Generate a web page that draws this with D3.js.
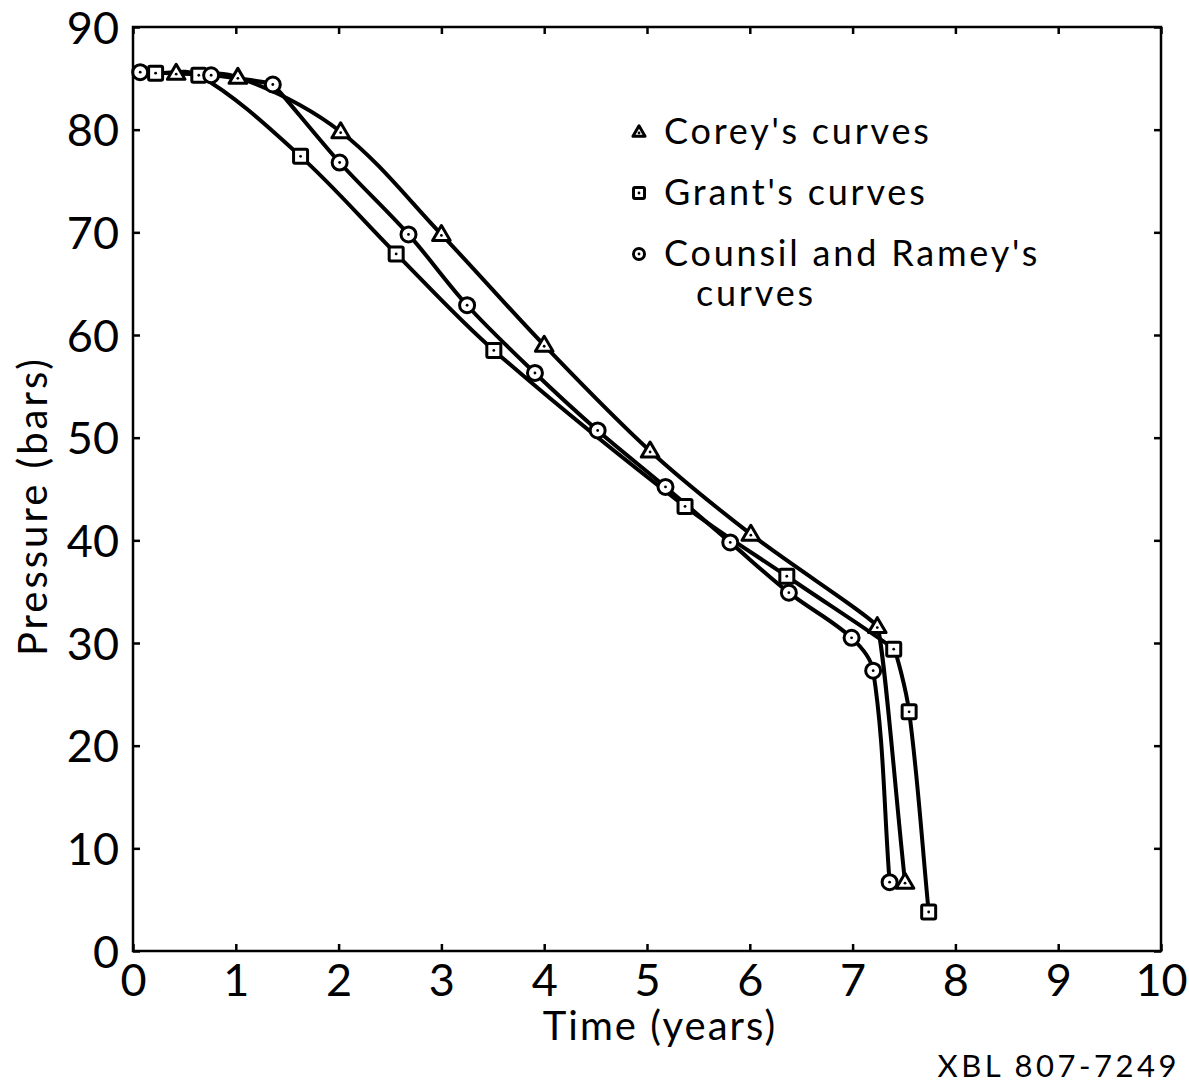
<!DOCTYPE html>
<html>
<head>
<meta charset="utf-8">
<script src="https://cdn.jsdelivr.net/npm/d3@7"></script>
<style>
  html, body { margin: 0; padding: 0; background: #fff; }
  svg { display: block; }
  text { font-family: "Lato", "DejaVu Sans", sans-serif; fill: #000; }
</style>
</head>
<body>
<svg id="chart" width="1189" height="1084"></svg>
<script>
// ---- Data ----
const xTicks = [0, 1, 2, 3, 4, 5, 6, 7, 8, 9, 10];
const yTicks = [0, 10, 20, 30, 40, 50, 60, 70, 80, 90];

const coreyTime     = [0.42, 1.02, 2.02, 3.00, 4.00, 5.03, 6.01, 7.24, 7.51];
const coreyPressure = [85.5, 85.1, 79.8, 69.8, 59.0, 48.7, 40.6, 31.6, 6.7];

const grantTime     = [0.22, 0.64, 1.63, 2.56, 3.51, 5.37, 6.36, 7.40, 7.55, 7.74];
const grantPressure = [85.5, 85.3, 77.4, 67.9, 58.5, 43.3, 36.5, 29.4, 23.3, 3.8];

const crTime     = [0.07, 0.76, 1.36, 2.01, 2.68, 3.25, 3.91, 4.52, 5.18, 5.81, 6.38, 6.99, 7.20, 7.36];
const crPressure = [85.6, 85.3, 84.4, 76.8, 69.8, 62.9, 56.3, 50.7, 45.2, 39.8, 34.9, 30.5, 27.3, 6.7];

const seriesNames = ["Corey's curves", "Grant's curves", "Counsil and Ramey's", "curves"];
const xTitle = "Time (years)";
const yTitle = "Pressure (bars)";
const figureId = "XBL 807-7249";

// ---- Layout ----
const svg = d3.select("#chart");
const mLeft = 133, mRight = 1161, mTop = 27, mBottom = 951;

const x = d3.scaleLinear().domain([0, 10]).range([mLeft, mRight]);
const y = d3.scaleLinear().domain([0, 90]).range([mBottom, mTop]);

const zip = (xs, ys) => xs.map((v, i) => ({ t: v, p: ys[i] }));
const corey = zip(coreyTime, coreyPressure);
const grant = zip(grantTime, grantPressure);
const cr = zip(crTime, crPressure);

// frame
svg.append("rect")
  .attr("x", mLeft).attr("y", mTop)
  .attr("width", mRight - mLeft).attr("height", mBottom - mTop)
  .attr("fill", "none").attr("stroke", "#000").attr("stroke-width", 2.5);

// axes with inward ticks
const tickLen = 7;
const gx = svg.append("g").attr("transform", `translate(0,${mBottom})`)
  .call(d3.axisBottom(x).tickValues(xTicks).tickSize(-tickLen).tickPadding(13).tickFormat(d => d));
const gxTop = svg.append("g").attr("transform", `translate(0,${mTop})`)
  .call(d3.axisTop(x).tickValues(xTicks).tickSize(-tickLen).tickFormat(""));
const gy = svg.append("g").attr("transform", `translate(${mLeft},0)`)
  .call(d3.axisLeft(y).tickValues(yTicks).tickSize(-tickLen).tickPadding(14).tickFormat(d => d));
const gyR = svg.append("g").attr("transform", `translate(${mRight},0)`)
  .call(d3.axisRight(y).tickValues(yTicks).tickSize(-tickLen).tickFormat(""));

[gx, gxTop, gy, gyR].forEach(g => {
  g.select(".domain").remove();
  g.selectAll(".tick line").attr("stroke", "#000").attr("stroke-width", 2.5);
  g.selectAll(".tick text").attr("font-family", "Lato, 'DejaVu Sans', sans-serif")
    .attr("font-size", 45).attr("fill", "#000");
});
gx.selectAll(".tick text").attr("dy", "0.72em");
gy.selectAll(".tick text").attr("dy", "0.36em");

// axis titles
svg.append("text").attr("x", 660).attr("y", 1040)
  .attr("text-anchor", "middle").attr("font-size", 40).attr("letter-spacing", 2).text(xTitle);
svg.append("text")
  .attr("transform", `translate(47,${506}) rotate(-90)`)
  .attr("text-anchor", "middle").attr("font-size", 40).attr("letter-spacing", 3).text(yTitle);
svg.append("text").attr("x", 1180).attr("y", 1077)
  .attr("text-anchor", "end").attr("font-size", 31).attr("letter-spacing", 3.5).text(figureId);

// smooth curve through the points: Bezier segments with length-weighted
// tangents, short handles at sharp bends (knees)
function smoothPath(data) {
  const pts = data.map(d => [x(d.t), y(d.p)]);
  const n = pts.length;
  const dirs = [], lens = [];
  for (let i = 0; i < n - 1; i++) {
    const dx = pts[i + 1][0] - pts[i][0], dy = pts[i + 1][1] - pts[i][1];
    const L = Math.hypot(dx, dy);
    dirs.push([dx / L, dy / L]); lens.push(L);
  }
  const T = [], F = [];
  for (let i = 0; i < n; i++) {
    if (i === 0) { T.push(dirs[0]); F.push(1); continue; }
    if (i === n - 1) { T.push(dirs[n - 2]); F.push(1); continue; }
    const a = dirs[i - 1], b = dirs[i], la = lens[i - 1], lb = lens[i];
    const sx = a[0] * la + b[0] * lb, sy = a[1] * la + b[1] * lb, s = Math.hypot(sx, sy);
    T.push([sx / s, sy / s]);
    const ang = Math.acos(Math.max(-1, Math.min(1, a[0] * b[0] + a[1] * b[1]))) * 180 / Math.PI;
    F.push(ang > 38 ? 0.18 : 1);
  }
  const p = d3.path();
  p.moveTo(pts[0][0], pts[0][1]);
  for (let i = 0; i < n - 1; i++) {
    const h = lens[i] / 3;
    const c1 = [pts[i][0] + T[i][0] * h * F[i], pts[i][1] + T[i][1] * h * F[i]];
    const c2 = [pts[i + 1][0] - T[i + 1][0] * h * F[i + 1], pts[i + 1][1] - T[i + 1][1] * h * F[i + 1]];
    p.bezierCurveTo(c1[0], c1[1], c2[0], c2[1], pts[i + 1][0], pts[i + 1][1]);
  }
  return p.toString();
}

[grant, cr, corey].forEach(s => {
  svg.append("path").attr("d", smoothPath(s))
    .attr("fill", "none").attr("stroke", "#000").attr("stroke-width", 4)
    .attr("stroke-linejoin", "round").attr("stroke-linecap", "round");
});

// markers
function drawMarker(g, kind, cx, cy, size) {
  const sw = size > 10 ? 3 : 2;
  if (kind === "tri") {
    const h = size * 0.9, w = size * 1.1;
    g.append("path")
      .attr("d", `M${cx},${cy - h * 0.62} L${cx + w / 2},${cy + h * 0.42} L${cx - w / 2},${cy + h * 0.42} Z`)
      .attr("fill", "#fff").attr("stroke", "#000").attr("stroke-width", sw).attr("stroke-linejoin", "round");
  } else if (kind === "sq") {
    g.append("rect").attr("x", cx - size / 2).attr("y", cy - size / 2)
      .attr("width", size).attr("height", size).attr("rx", 1.5)
      .attr("fill", "#fff").attr("stroke", "#000").attr("stroke-width", sw);
  } else {
    g.append("circle").attr("cx", cx).attr("cy", cy).attr("r", size / 2)
      .attr("fill", "#fff").attr("stroke", "#000").attr("stroke-width", sw);
  }
  g.append("circle").attr("cx", cx).attr("cy", cy + (kind === "tri" ? 1 : 0))
    .attr("r", size > 10 ? 1.4 : 1.1).attr("fill", "#000");
}

const mg = svg.append("g");
grant.forEach(d => drawMarker(mg, "sq", x(d.t), y(d.p), 14));
cr.forEach(d => drawMarker(mg, "circ", x(d.t), y(d.p), 15));
corey.forEach(d => drawMarker(mg, "tri", x(d.t), y(d.p), 16));

// legend
const lg = svg.append("g");
const legendRows = [
  { kind: "tri", y: 132, text: seriesNames[0] },
  { kind: "sq", y: 193, text: seriesNames[1] },
  { kind: "circ", y: 254, text: seriesNames[2] }
];
legendRows.forEach(r => {
  drawMarker(lg, r.kind, 639, r.y, 11);
  lg.append("text").attr("x", 664).attr("y", r.y + 12).attr("font-size", 36)
    .attr("letter-spacing", 2.8).text(r.text);
});
lg.append("text").attr("x", 696).attr("y", 306).attr("font-size", 36)
  .attr("letter-spacing", 2.8).text(seriesNames[3]);
</script>
</body>
</html>
